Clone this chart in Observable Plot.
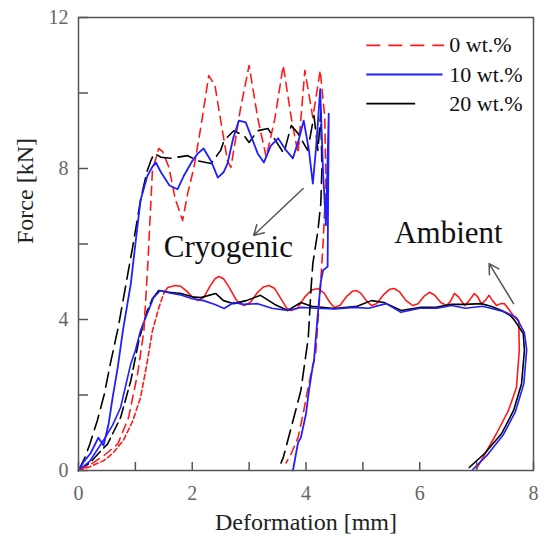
<!DOCTYPE html>
<html><head><meta charset="utf-8">
<script src="https://cdn.jsdelivr.net/npm/d3@7"></script>
<script src="https://cdn.jsdelivr.net/npm/@observablehq/plot@0.6"></script>
<style>body{margin:0;background:#fff}</style>
</head><body><div id="chart"></div>
<script>
// ---- data (Deformation [mm], Force [kN]) ----
const xTicks = [0,1,2,3,4,5,6,7,8];
const xLabels = [0,2,4,6,8];
const yTicks = [0,2,4,6,8,10,12];
const yLabels = [0,4,8,12];

const cryo0 = [[0,0],[0.2,0.15],[0.45,0.4],[0.69,0.7],[0.88,1.4],[1.04,2.57],[1.15,3.7],[1.22,5.5],[1.3,7.95],[1.41,8.53],[1.48,8.45],[1.59,8.03],[1.7,7.2],[1.83,6.62],[1.92,7.34],[2.03,8.03],[2.15,9.09],[2.29,10.46],[2.4,10.2],[2.47,9.54],[2.62,8.2],[2.68,8.03],[2.85,9.6],[3.0,10.73],[3.15,9.35],[3.3,8.3],[3.45,9.3],[3.6,10.73],[3.74,9.35],[3.86,8.4],[3.98,10.6],[4.12,9.35],[4.25,10.6],[4.33,9.35],[4.35,7.6],[4.3,6.0],[4.26,5.03],[4.17,3.1],[4.05,2.3],[3.95,1.5],[3.86,0.87],[3.74,0.45],[3.65,0.2]];
const cryo10 = [[0,0],[0.1,0.25],[0.21,0.45],[0.35,0.87],[0.44,0.66],[0.53,1.24],[0.6,1.93],[0.69,2.73],[0.78,3.7],[0.92,4.95],[1.0,6.0],[1.09,7.15],[1.21,7.8],[1.3,8.05],[1.36,8.16],[1.45,7.9],[1.6,7.55],[1.74,7.45],[1.85,7.8],[2.0,8.2],[2.1,8.4],[2.2,8.53],[2.33,8.2],[2.45,7.76],[2.55,7.9],[2.62,8.13],[2.72,8.8],[2.82,9.27],[2.94,9.22],[3.05,8.8],[3.15,8.4],[3.26,8.16],[3.38,8.6],[3.51,8.8],[3.64,8.5],[3.77,8.27],[3.88,8.8],[3.96,9.27],[4.05,8.5],[4.12,7.6],[4.18,8.6],[4.25,10.1],[4.3,7.9],[4.35,6.5],[4.4,9.45],[4.38,5.4],[4.3,5.3],[4.26,5.0],[4.2,4.0],[4.14,2.9],[4.12,2.78],[4.05,2.1],[4.0,1.5],[3.91,0.87],[3.86,0.74],[3.77,0]];
const cryo20 = [[0,0],[0.1,0.3],[0.2,0.7],[0.33,1.32],[0.45,2.0],[0.56,2.83],[0.7,3.8],[0.83,4.9],[0.95,5.9],[1.09,7.15],[1.2,7.9],[1.27,8.2],[1.33,8.4],[1.45,8.3],[1.62,8.27],[1.74,8.3],[1.92,8.34],[2.11,8.2],[2.33,8.13],[2.5,8.48],[2.56,8.74],[2.73,9.0],[2.91,8.87],[3.0,8.69],[3.15,9.0],[3.33,9.06],[3.44,8.8],[3.61,8.4],[3.74,9.14],[3.86,8.93],[4.03,8.48],[4.14,9.4],[4.21,8.48],[4.26,9.5],[4.28,8.0],[4.26,7.07],[4.21,6.36],[4.12,5.48],[4.09,4.85],[4.04,3.52],[3.91,2.12],[3.74,1.14],[3.6,0.34],[3.56,0.2]];

const amb0 = [[0,0],[0.2,0.1],[0.44,0.26],[0.6,0.45],[0.79,0.8],[0.95,1.3],[1.09,1.93],[1.2,2.8],[1.3,3.7],[1.41,4.3],[1.5,4.7],[1.57,4.85],[1.7,4.9],[1.8,4.88],[1.9,4.75],[2.0,4.6],[2.1,4.5],[2.2,4.58],[2.3,4.85],[2.4,5.08],[2.47,5.14],[2.55,5.08],[2.65,4.85],[2.78,4.5],[2.91,4.37],[3.02,4.45],[3.15,4.72],[3.25,4.86],[3.35,4.9],[3.45,4.82],[3.58,4.5],[3.66,4.3],[3.74,4.24],[3.85,4.3],[3.98,4.6],[4.1,4.78],[4.21,4.82],[4.32,4.7],[4.42,4.45],[4.5,4.32],[4.6,4.38],[4.72,4.62],[4.82,4.75],[4.88,4.77],[4.96,4.7],[5.06,4.5],[5.15,4.37],[5.24,4.42],[5.36,4.65],[5.47,4.8],[5.55,4.82],[5.64,4.74],[5.76,4.5],[5.88,4.37],[5.97,4.42],[6.08,4.62],[6.17,4.72],[6.26,4.65],[6.37,4.45],[6.47,4.37],[6.54,4.48],[6.61,4.69],[6.68,4.6],[6.79,4.37],[6.87,4.5],[6.96,4.69],[7.02,4.6],[7.08,4.42],[7.15,4.5],[7.22,4.64],[7.28,4.5],[7.35,4.37],[7.42,4.42],[7.49,4.42],[7.6,4.2],[7.67,4.05],[7.74,3.97],[7.75,3.18],[7.7,2.2],[7.56,1.59],[7.35,0.98],[7.08,0.26],[7.0,0.05]];
const amb10 = [[0,0],[0.2,0.25],[0.44,0.8],[0.6,1.2],[0.74,1.67],[0.92,2.83],[1.0,3.18],[1.09,3.7],[1.18,4.05],[1.32,4.58],[1.44,4.77],[1.6,4.7],[1.8,4.65],[2.0,4.55],[2.2,4.5],[2.4,4.4],[2.56,4.29],[2.73,4.45],[2.9,4.4],[3.15,4.42],[3.4,4.3],[3.68,4.24],[3.91,4.32],[4.2,4.3],[4.5,4.28],[4.85,4.32],[5.1,4.3],[5.41,4.42],[5.67,4.19],[6.0,4.3],[6.3,4.3],[6.56,4.37],[6.8,4.3],[7.1,4.35],[7.3,4.28],[7.5,4.2],[7.7,4.05],[7.84,3.65],[7.88,3.2],[7.83,2.3],[7.68,1.55],[7.47,0.95],[7.18,0.4],[6.93,0.02]];
const amb20 = [[0,0],[0.2,0.2],[0.35,0.45],[0.51,0.7],[0.74,1.4],[0.92,2.38],[1.06,3.44],[1.2,4.2],[1.3,4.55],[1.41,4.77],[1.6,4.72],[1.8,4.69],[2.0,4.6],[2.15,4.58],[2.41,4.69],[2.55,4.5],[2.73,4.42],[2.95,4.5],[3.2,4.64],[3.45,4.4],[3.68,4.24],[3.91,4.45],[4.1,4.35],[4.5,4.29],[4.9,4.35],[5.15,4.5],[5.37,4.45],[5.67,4.24],[6.0,4.32],[6.26,4.32],[6.56,4.4],[6.8,4.4],[7.08,4.42],[7.25,4.35],[7.44,4.24],[7.6,4.1],[7.67,3.97],[7.82,3.63],[7.84,3.18],[7.79,2.3],[7.65,1.59],[7.44,0.98],[7.14,0.45],[6.87,0.08]];

const legendNames = ["0 wt.%","10 wt.%","20 wt.%"];
const legendY = [11.26, 10.49, 9.72];
const legendX1 = [5.06, 5.06, 5.06];
const legendX2 = [6.43, 6.40, 5.92];
const legendTextX = 6.52;

const notes = [{text:"Cryogenic", x:1.5, y:5.91},{text:"Ambient", x:5.55, y:6.3}];
const arrows = [{x1:3.95, y1:7.47, x2:3.08, y2:6.23},{x1:7.65, y1:4.42, x2:7.22, y2:5.48}];

// ---- styles ----
const RED = "#ff1a1a", BLUE = "#1f1fff", BLACK = "#000";
const legendStroke = [RED, BLUE, BLACK];
const legendDash = ["14,8", null, null];
const X = d => d[0], Y = d => d[1];
// split an ambient curve into its loading ramp (drawn broken, as in the source) and its plateau/unloading
const rampEnd = a => a.findIndex(d => d[1] >= 4.5);
const ramp = a => a.slice(0, rampEnd(a) + 1);
const rest = a => a.slice(rampEnd(a));

const legendRows = legendNames.map((n,i) => ({name:n, y:legendY[i], x1:legendX1[i], x2:legendX2[i], i}));

const chart = Plot.plot({
  width: 545, height: 539,
  marginLeft: 78, marginRight: 12, marginTop: 17, marginBottom: 69,
  x: {domain: [0, 8]},
  y: {domain: [0, 12]},
  style: {fontFamily: "'Liberation Serif', 'Times New Roman', serif", background: "#fff", overflow: "visible"},
  marks: [
    // ambient
    Plot.line(ramp(amb0), {x: X, y: Y, stroke: RED, strokeWidth: 1.6, strokeDasharray: "5,3"}),
    Plot.line(rest(amb0), {x: X, y: Y, stroke: RED, strokeWidth: 1.6}),
    Plot.line(ramp(amb20), {x: X, y: Y, stroke: BLACK, strokeWidth: 1.6, strokeDasharray: "12,5"}),
    Plot.line(rest(amb20), {x: X, y: Y, stroke: BLACK, strokeWidth: 1.6}),
    Plot.line(amb10, {x: X, y: Y, stroke: BLUE, strokeWidth: 1.6}),
    // cryogenic
    Plot.line(cryo0, {x: X, y: Y, stroke: RED, strokeWidth: 1.6, strokeDasharray: "9,6"}),
    Plot.line(cryo20, {x: X, y: Y, stroke: BLACK, strokeWidth: 1.6, strokeDasharray: "15,7"}),
    Plot.line(cryo10, {x: X, y: Y, stroke: BLUE, strokeWidth: 1.8}),
    // frame & ticks
    Plot.frame({stroke: "#555", strokeWidth: 1.5}),
    Plot.tickX(xTicks, {x: d => d, insetTop: 445, stroke: "#555", strokeWidth: 1.5}),
    Plot.tickY(yTicks, {y: d => d, insetRight: 445, stroke: "#555", strokeWidth: 1.5}),
    Plot.axisX(xLabels, {tickSize: 0, tickPadding: 15, fontSize: 20, fill: "#666", label: null}),
    Plot.axisY(yLabels, {tickSize: 0, tickPadding: 10, fontSize: 20, fill: "#666", label: null}),
    Plot.text(["Deformation [mm]"], {text: d => d, frameAnchor: "bottom", dy: 59, fontSize: 24, fill: "#222"}),
    Plot.text(["Force [kN]"], {text: d => d, frameAnchor: "left", dx: -53, rotate: -90, fontSize: 24, fill: "#222"}),
    // legend
    ...legendRows.map(r => Plot.link([r], {x1: "x1", x2: "x2", y1: "y", y2: "y", stroke: legendStroke[r.i], strokeDasharray: legendDash[r.i], strokeWidth: 1.8})),
    Plot.text(legendRows, {x: legendTextX, y: "y", text: "name", textAnchor: "start", fontSize: 22, fill: "#111"}),
    // annotations
    Plot.text(notes, {x: "x", y: "y", text: "text", textAnchor: "start", fontSize: 31, fill: "#111"}),
    Plot.arrow(arrows, {x1: "x1", y1: "y1", x2: "x2", y2: "y2", stroke: "#555", strokeWidth: 1.5, headLength: 11, bend: 0})
  ]
});
document.getElementById("chart").append(chart);
</script>
</body></html>
